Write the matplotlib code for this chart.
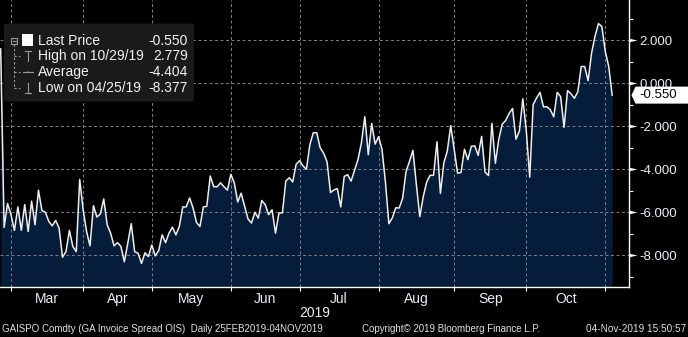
import numpy as np
import pandas as pd
import matplotlib
matplotlib.use("Agg")
import matplotlib.pyplot as plt
from matplotlib.path import Path
from matplotlib.patches import Polygon, FancyBboxPatch, Rectangle, Circle
from matplotlib.lines import Line2D
from matplotlib.transforms import IdentityTransform

# GA invoice spread vs OIS, daily closes grouped by month
feb = [1.60, -6.70, -5.59, -6.11]
mar = [-6.84, -5.75, -6.84, -5.64, -6.89, -5.48, -6.58, -4.97, -5.92, -6.00,
       -6.42, -6.63, -6.38, -6.73, -8.09, -7.83, -6.84, -7.59, -7.83, -4.47, -5.88]
apr = [-6.89, -7.56, -5.69, -6.22, -6.08, -5.38, -6.58, -6.97, -7.56, -7.41,
       -7.59, -8.30, -7.44, -6.53, -7.83, -7.91, -8.377, -7.88, -8.06, -7.52]
may = [-8.03, -7.78, -7.05, -7.41, -6.97, -6.69, -7.05, -6.66, -5.75, -5.75,
       -5.33, -5.80, -6.47, -6.66, -5.75, -5.72, -4.31, -4.81, -4.81, -4.63,
       -4.81, -4.97, -4.23]
jun = [-4.63, -5.52, -5.11, -5.72, -6.31, -6.50, -6.00, -6.27, -5.45, -5.64,
       -6.11, -5.88, -6.97, -6.03, -6.03, -4.55, -4.39, -4.59, -3.77, -3.60]
jul = [-3.84, -4.00, -2.85, -2.30, -2.30, -3.00, -3.25, -3.65, -5.08, -4.96,
       -4.90, -5.75, -4.33, -4.25, -4.55, -4.05, -3.55, -2.78, -1.55, -3.32,
       -1.87, -2.83, -2.48]
aug = [-3.07, -4.60, -6.53, -6.26, -5.79, -5.80, -5.35, -4.10, -3.63, -3.12,
       -4.70, -6.20, -5.28, -4.60, -4.28, -4.28, -2.72, -5.12, -3.70, -3.16,
       -1.97, -3.05]
sep = [-4.18, -4.15, -3.07, -3.55, -2.93, -2.91, -3.35, -2.47, -4.13, -4.29,
       -1.86, -3.72, -2.60, -1.90, -1.73, -1.40, -1.17, -2.60, -2.22, -0.72, -2.20]
oct_ = [-4.37, -0.99, -0.68, -0.42, -1.10, -1.09, -1.23, -1.56, -0.42, -0.62,
        -2.05, -0.34, -0.48, -0.70, -0.39, 0.78, 0.78, 0.12, 1.40, 2.18,
        2.779, 2.64, 1.48]
nov = [0.78, -0.55]

average_value = -4.404
exchange_holidays = ["2019-04-19", "2019-04-22"]
y_major = [-8, -6, -4, -2, 0, 2]
y_minor = [-9, -7, -5, -3, -1, 1, 3]

values = np.array(feb + mar + apr + may + jun + jul + aug + sep + oct_ + nov)
dates = pd.bdate_range("2019-02-25", "2019-11-04", freq="C", holidays=exchange_holidays)
idx = np.arange(len(values))

BG = "black"
FILL = "#051d3b"
LINE = "#eeeeee"
GRID = "#7a7a7a"
TXT = "#e9eef5"
REG = ["Liberation Sans", "DejaVu Sans"]
NARROW = ["Liberation Sans Narrow", "Liberation Sans", "DejaVu Sans"]

W, H = 688, 337
fig = plt.figure(figsize=(W / 100, H / 100), dpi=100, facecolor=BG)
ax = fig.add_axes([0, 50 / H, 629 / W, 287 / H], facecolor=BG)

ymin, ymax = -9.474, 3.874
ax.set_xlim(-0.2, 182.9)
ax.set_ylim(ymin, ymax)

ax.fill_between(idx, values, ymin, color=FILL, lw=0, zorder=1)
ax.plot(idx, values, color=LINE, lw=1.1, zorder=4)

# month boundaries sit on the last trading day of each month
bounds = [i - 1 for i in range(1, len(dates)) if dates[i].month != dates[i - 1].month]
mids = [(a + b) / 2 for a, b in zip(bounds[:-1], bounds[1:])]
mlabels = [dates[b + 1].strftime("%b") for b in bounds[:-1]]

for b in bounds:
    ax.axvline(b, color=GRID, lw=0.72, ls=(0, (3, 2.5)), zorder=2)
for v in y_major:
    ax.axhline(v, color=GRID, lw=0.72, ls=(0, (3, 2.5)), zorder=2)

# x axis
ax.set_xticks(bounds)
ax.set_xticklabels([])
ax.set_xticks(mids, minor=True)
ax.set_xticklabels(mlabels, minor=True, fontsize=10, color=TXT, family=NARROW)
ax.tick_params(axis="x", which="major", direction="out", length=3, width=0.8, color="white")
ax.tick_params(axis="x", which="minor", length=0, pad=3.4)

# y axis on the right
ax.yaxis.tick_right()
ax.set_yticks(y_major)
ax.set_yticklabels([f"{v:.3f}" for v in y_major], fontsize=9.5, color=TXT, family=REG)
ax.set_yticks(y_minor, minor=True)
ax.tick_params(axis="y", which="major", length=0, pad=7.3)
ax.tick_params(axis="y", which="minor", direction="out", length=3, width=0.8, color="white")

for s in ["top", "left"]:
    ax.spines[s].set_visible(False)
for s in ["right", "bottom"]:
    ax.spines[s].set_color("white")
    ax.spines[s].set_linewidth(1.0)

# pointer marks at the major y ticks
arrow = Path([(0, -0.22), (1, 0), (0, 0.22), (0, -0.22)],
             [Path.MOVETO, Path.LINETO, Path.LINETO, Path.CLOSEPOLY])
ax.plot([1.0] * len(y_major), y_major, ls="none", marker=arrow, ms=11.5,
        color="white", mew=0, transform=ax.get_yaxis_transform(), clip_on=False, zorder=5)

# last price tag
last = values[-1]
yc = ax.transData.transform((0, last))[1]
tag = Polygon([(631.5, yc), (635.5, yc - 8.5), (W, yc - 8.5), (W, yc + 8.5), (635.5, yc + 8.5)],
              closed=True, facecolor="white", edgecolor="none",
              transform=IdentityTransform(), zorder=10)
fig.patches.append(tag)
fig.text(639 / W, yc / H, f"{last:.3f}", color="black", fontsize=9.5, family=REG,
         va="center", ha="left", zorder=11)

# legend panel
def fx(x):
    return x / W

def fy(y):
    return 1 - y / H

panel = FancyBboxPatch((fx(4), fy(101.5)), fx(190), (101.5 - 23.5) / H,
                       boxstyle="round,pad=0,rounding_size=0.006",
                       transform=fig.transFigure, facecolor="#1a1a1a", edgecolor="none", zorder=6)
fig.patches.append(panel)

hi_i, lo_i = int(np.argmax(values)), int(np.argmin(values))
rows = [
    ("Last Price", f"{last:.3f}"),
    (f"High on {dates[hi_i].strftime('%m/%d/%y')}", f"{values[hi_i]:.3f}"),
    ("Average", f"{average_value:.3f}"),
    (f"Low on {dates[lo_i].strftime('%m/%d/%y')}", f"{values[lo_i]:.3f}"),
]
row_y = [40.7, 56.2, 72.3, 88.3]
for (lab, val), ry in zip(rows, row_y):
    fig.text(fx(37.5), fy(ry), lab, color="#f2f2f2", fontsize=10, family=REG,
             va="center", ha="left", zorder=8)
    fig.text(fx(188), fy(ry), val, color="#f2f2f2", fontsize=10, family=REG,
             va="center", ha="right", zorder=8)

ic = "#9a9a9a"
def seg(x0, y0, x1, y1, **kw):
    fig.lines.append(Line2D([fx(x0), fx(x1)], [fy(y0), fy(y1)], transform=fig.transFigure,
                            color=kw.pop("color", ic), lw=kw.pop("lw", 0.8), zorder=8, **kw))

# tree collapse box and dashed branches
fig.patches.append(Rectangle((fx(11), fy(44.2)), fx(6.3), 6.3 / H, transform=fig.transFigure,
                             facecolor="none", edgecolor=ic, lw=0.8, zorder=8))
seg(12.5, 40.9, 15.8, 40.9)
seg(14.1, 44.2, 14.1, 88.3, ls=(0, (2, 2)))
for ry in row_y[1:]:
    seg(14.1, ry, 20, ry, ls=(0, (2, 2)))
fig.patches.append(Rectangle((fx(21.5), fy(45.5)), fx(11), 11 / H, transform=fig.transFigure,
                             facecolor="white", edgecolor="none", zorder=8))
# high marker
seg(28, 51, 28, 61)
seg(25, 51, 31, 51)
# average marker
seg(23, 72.3, 33, 72.3)
fig.patches.append(Circle((fx(28), fy(72.3)), 1.6 / W, transform=fig.transFigure,
                          facecolor=ic, edgecolor="none", zorder=8))
# low marker
seg(28, 83, 28, 93)
seg(25, 93, 31, 93)

# footer
fig.text(0.5 * 629 / W, fy(313), "2019", color=TXT, fontsize=10, family=NARROW,
         ha="center", va="center")
fig.text(fx(2), fy(328.5), "GAISPO Comdty (GA Invoice Spread OIS)  Daily 25FEB2019-04NOV2019",
         color="#e0e0e0", fontsize=7.0, family=NARROW, ha="left", va="center")
fig.text(fx(362), fy(328.5), "Copyright\u00a9 2019 Bloomberg Finance L.P.",
         color="#e0e0e0", fontsize=7.0, family=NARROW, ha="left", va="center")
fig.text(fx(686), fy(328.5), "04-Nov-2019 15:50:57",
         color="#e0e0e0", fontsize=7.2, family=NARROW, ha="right", va="center")

fig.save_kw = None
fig.savefig("out.png", dpi=100, facecolor=BG)
